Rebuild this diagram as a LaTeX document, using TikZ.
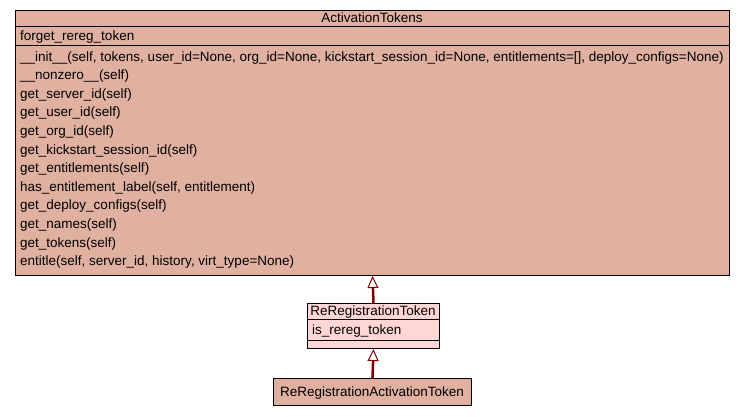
\documentclass[tikz,border=0pt]{standalone}
\usepackage{fontspec}
\setmainfont{Liberation Sans}
\usetikzlibrary{arrows.meta}
\definecolor{mainfill}{RGB}{224,176,160}
\definecolor{lightfill}{RGB}{255,214,214}
\definecolor{edgered}{RGB}{128,0,0}
\tikzset{
  classbox/.style={draw=black, line width=1pt, anchor=north west, inner sep=0pt},
  txt/.style={anchor=base west, inner sep=0pt, font=\fontsize{13.5pt}{15pt}\selectfont},
  ttl/.style={anchor=base, inner sep=0pt, font=\fontsize{13.5pt}{15pt}\selectfont},
  sep/.style={line width=1pt},
  inherit/.style={draw=edgered, line width=2.5pt, -{Triangle[open, width=11pt, length=12pt, line width=1pt, fill=white]}}
}
\begin{document}
\begin{tikzpicture}[x=1pt,y=-1pt]
\useasboundingbox (0,0) rectangle (747,416);
% main class
\node[classbox, fill=mainfill, minimum width=714pt, minimum height=265pt] (main) at (15,10) {};
\draw[sep] (15,26) -- (729,26);
\draw[sep] (15,45) -- (729,45);
\node[ttl] (mainT) at (372,22) {ActivationTokens};
\node[txt] (a1) at (20,40) {forget\_rereg\_token};
\foreach \t [count=\i] in {
 {\_\_init\_\_(self, tokens, user\_id=None, org\_id=None, kickstart\_session\_id=None, entitlements=[], deploy\_configs=None)},
 {\_\_nonzero\_\_(self)},
 {get\_server\_id(self)},
 {get\_user\_id(self)},
 {get\_org\_id(self)},
 {get\_kickstart\_session\_id(self)},
 {get\_entitlements(self)},
 {has\_entitlement\_label(self, entitlement)},
 {get\_deploy\_configs(self)},
 {get\_names(self)},
 {get\_tokens(self)},
 {entitle(self, server\_id, history, virt\_type=None)}}
 { \node[txt] (m\i) at (20,{61+(\i-1)*18.6}) {\t}; }
% ReRegistrationToken
\node[classbox, fill=lightfill, minimum width=132pt, minimum height=45pt] (rr) at (307,303) {};
\draw[sep] (307,319) -- (439,319);
\draw[sep] (307,340) -- (439,340);
\node[ttl] (rrT) at (373,315) {ReRegistrationToken};
\node[txt] (rrA) at (312,334) {is\_rereg\_token};
% ReRegistrationActivationToken
\node[classbox, fill=mainfill, minimum width=198pt, minimum height=27pt] (rat) at (273,378) {};
\node[ttl] (ratT) at (372,396) {ReRegistrationActivationToken};
% inheritance
\draw[inherit] (rat.north) -- (rr.south);
\draw[inherit] (rr.north) -- (main.south);
\end{tikzpicture}
\end{document}
